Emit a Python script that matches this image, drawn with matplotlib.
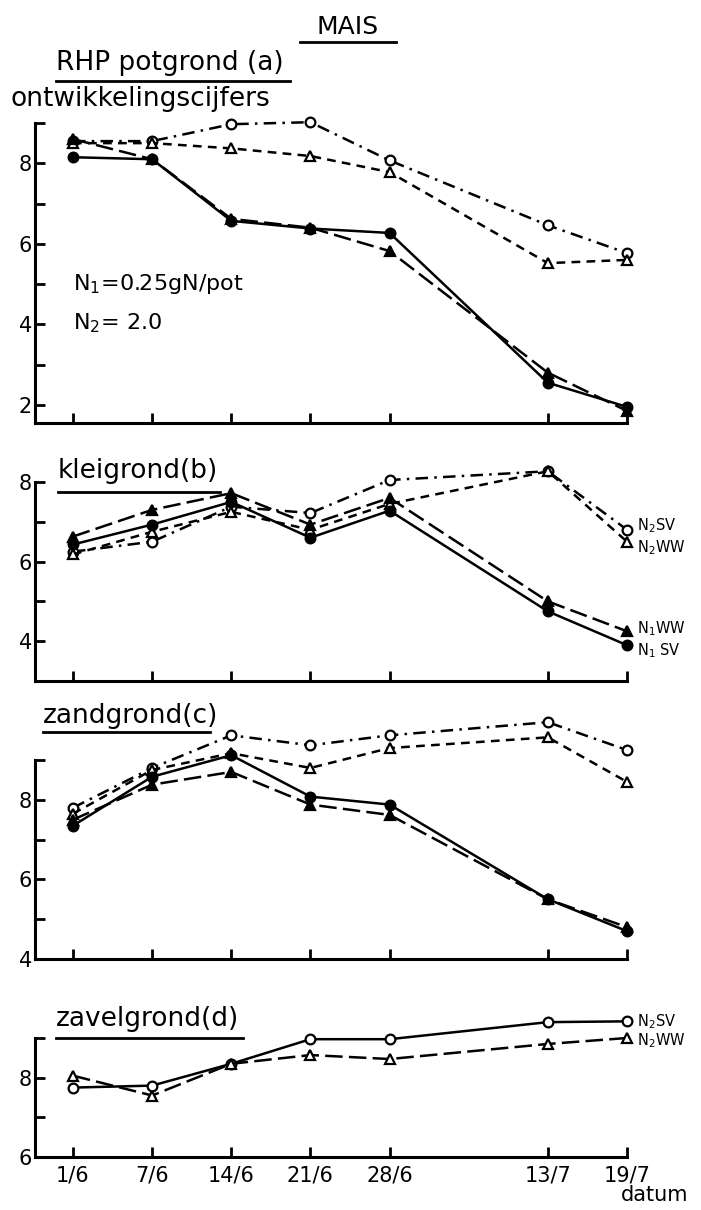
import matplotlib.pyplot as plt
from matplotlib.lines import Line2D
from matplotlib.ticker import MultipleLocator

W, H = 701, 1210

# x positions (weeks from 1/6) and tick labels
x_weeks = [0, 1, 2, 3, 4, 6, 7]
dates = ['1/6', '7/6', '14/6', '21/6', '28/6', '13/7', '19/7']

# (a) RHP potgrond
a_n1sv = [8.15, 8.1, 6.57, 6.38, 6.27, 2.55, 1.95]
a_n1ww = [8.6, 8.1, 6.62, 6.4, 5.82, 2.8, 1.85]
a_n2sv = [8.55, 8.55, 8.97, 9.02, 8.07, 6.46, 5.77]
a_n2ww = [8.5, 8.5, 8.37, 8.18, 7.78, 5.52, 5.6]

# (b) kleigrond
b_n1sv = [6.43, 6.93, 7.5, 6.6, 7.28, 4.75, 3.9]
b_n1ww = [6.63, 7.3, 7.72, 6.93, 7.6, 5.0, 4.25]
b_n2sv = [6.25, 6.5, 7.38, 7.22, 8.05, 8.27, 6.8]
b_n2ww = [6.18, 6.75, 7.25, 6.8, 7.45, 8.27, 6.5]

# (c) zandgrond
c_n1sv = [7.35, 8.58, 9.12, 8.08, 7.88, 5.5, 4.7]
c_n1ww = [7.5, 8.38, 8.7, 7.88, 7.62, 5.5, 4.8]
c_n2sv = [7.8, 8.8, 9.62, 9.37, 9.62, 9.95, 9.25]
c_n2ww = [7.65, 8.75, 9.17, 8.8, 9.3, 9.57, 8.45]

# (d) zavelgrond
d_n2sv = [7.75, 7.8, 8.35, 8.97, 8.97, 9.4, 9.42]
d_n2ww = [8.05, 7.55, 8.35, 8.57, 8.47, 8.85, 9.0]

plt.rcParams['font.family'] = ['DejaVu Sans']
fig = plt.figure(figsize=(W / 100, H / 100), dpi=100)


def fx(px):
    return px / W


def fy(py):
    return 1 - py / H


def make_ax(top, bottom, ylim, labels):
    ax = fig.add_axes([fx(35), fy(bottom), fx(627) - fx(35), fy(top) - fy(bottom)])
    ax.set_xlim(-0.48, 7)
    ax.set_ylim(*ylim)
    for s in ['top', 'right']:
        ax.spines[s].set_visible(False)
    for s in ['left', 'bottom']:
        ax.spines[s].set_linewidth(2.2)
    ax.set_xticks(x_weeks)
    ax.set_xticklabels([])
    ax.set_yticks(labels)
    ax.yaxis.set_minor_locator(MultipleLocator(1))
    ax.tick_params(direction='in', length=7, width=2, labelsize=15, pad=2)
    ax.tick_params(which='minor', direction='in', length=7, width=2)
    ax.tick_params(axis='x', which='minor', length=0)
    return ax


styles = {
    'n1sv': dict(ls='-', marker='o', mfc='black'),
    'n1ww': dict(ls=(0, (7, 2.5)), marker='^', mfc='black'),
    'n2sv': dict(ls=(0, (5, 2.5, 1, 2.5)), marker='o', mfc='white'),
    'n2ww': dict(ls=(0, (3.5, 2.5)), marker='^', mfc='white'),
}


def draw(ax, y, key, **kw):
    st = dict(styles[key])
    st.update(kw)
    ax.plot(x_weeks, y, color='black', lw=1.8, ms=7, mec='black', mew=1.6,
            clip_on=False, zorder=3, **st)


ax_a = make_ax(123, 423, (1.55, 9.0), [2, 4, 6, 8])
draw(ax_a, a_n2sv, 'n2sv')
draw(ax_a, a_n2ww, 'n2ww')
draw(ax_a, a_n1sv, 'n1sv')
draw(ax_a, a_n1ww, 'n1ww')
ax_a.text(0.0, 5.0, 'N$_1$=0.25gN/pot', fontsize=16, va='center')
ax_a.text(0.0, 4.03, 'N$_2$= 2.0', fontsize=16, va='center')

ax_b = make_ax(482, 681, (3.0, 8.0), [4, 6, 8])
draw(ax_b, b_n2sv, 'n2sv')
draw(ax_b, b_n2ww, 'n2ww')
draw(ax_b, b_n1sv, 'n1sv')
draw(ax_b, b_n1ww, 'n1ww')

ax_c = make_ax(760, 959, (4.0, 9.0), [4, 6, 8])
draw(ax_c, c_n2sv, 'n2sv')
draw(ax_c, c_n2ww, 'n2ww')
draw(ax_c, c_n1sv, 'n1sv')
draw(ax_c, c_n1ww, 'n1ww')

ax_d = make_ax(1038, 1157, (6.0, 9.0), [6, 8])
draw(ax_d, d_n2sv, 'n2sv', ls='-')
draw(ax_d, d_n2ww, 'n2ww', ls=(0, (7, 2.5)))
ax_d.set_xticklabels(dates)
ax_d.tick_params(axis='x', labelsize=15, pad=6)

# series labels at the right end (upper one nudged up, lower one down)
for ax, ys, names, dys in [
    (ax_b, [b_n2sv, b_n2ww, b_n1ww, b_n1sv], ['N$_2$SV', 'N$_2$WW', 'N$_1$WW', 'N$_1$ SV'],
     [3, -4, 2, -4]),
    (ax_d, [d_n2sv, d_n2ww], ['N$_2$SV', 'N$_2$WW'], [0, -2]),
]:
    for y, name, dy in zip(ys, names, dys):
        ax.annotate(name, (x_weeks[-1], y[-1]), xytext=(7, dy), textcoords='offset points',
                    fontsize=10.5, va='center', ha='left', annotation_clip=False)


def label(text, x0, y, x1, uy, size=19):
    fig.text(fx(x0), fy(y), text, fontsize=size, ha='left', va='center')
    if x1 is not None:
        fig.add_artist(Line2D([fx(x0), fx(x1)], [fy(uy), fy(uy)], color='black', lw=2))


fig.text(fx(348), fy(27), 'MAIS', fontsize=18, ha='center', va='center')
fig.add_artist(Line2D([fx(300), fx(396)], [fy(42), fy(42)], color='black', lw=2))
label('RHP potgrond (a)', 56, 63, 290, 81)
label('ontwikkelingscijfers', 11, 99, None, None)
label('kleigrond(b)', 58, 471, 220, 492)
label('zandgrond(c)', 43, 716, 210, 732)
label('zavelgrond(d)', 56, 1019, 243, 1038)
fig.text(fx(655), fy(1195), 'datum', fontsize=15, ha='center', va='center')

fig.savefig('out.png', dpi=100)
